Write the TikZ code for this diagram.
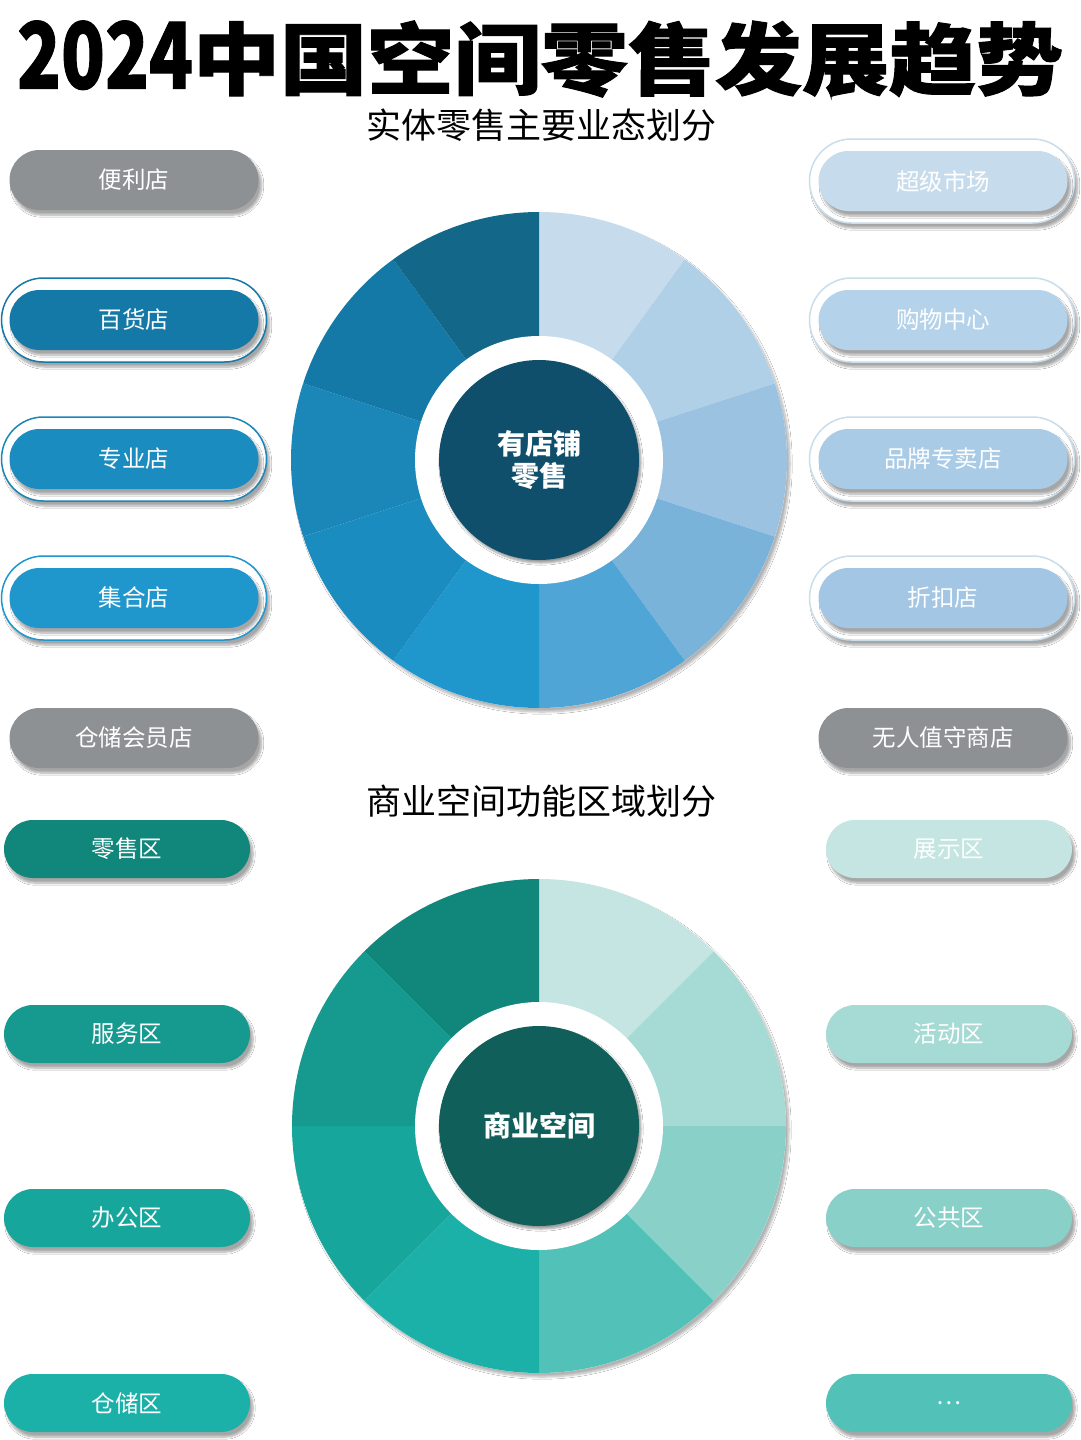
\documentclass[tikz,border=0pt]{standalone}
\usepackage{fontspec}
\setmainfont{Noto Sans CJK SC}
\newfontfamily\heavyfont{Noto Sans CJK SC}[BoldFeatures={FakeBold=1.2}]
\usetikzlibrary{shapes.misc,shadows,shadows.blur}
\definecolor{grayp}{HTML}{8E9194}
\definecolor{T1}{HTML}{C6DCEC}
\definecolor{T2}{HTML}{B0D0E8}
\definecolor{T3}{HTML}{9BC3E1}
\definecolor{T4}{HTML}{7AB3D9}
\definecolor{T5}{HTML}{4EA5D6}
\definecolor{T6}{HTML}{1F96CC}
\definecolor{T7}{HTML}{1A8CBF}
\definecolor{T8}{HTML}{1B86B8}
\definecolor{T9}{HTML}{1579A7}
\definecolor{T10}{HTML}{136889}
\definecolor{Tcore}{HTML}{104F6B}
\definecolor{B1}{HTML}{C4E5E1}
\definecolor{B2}{HTML}{A6DBD5}
\definecolor{B3}{HTML}{88D0C8}
\definecolor{B4}{HTML}{52C2B8}
\definecolor{B5}{HTML}{1BB1A8}
\definecolor{B6}{HTML}{17A69C}
\definecolor{B7}{HTML}{16998F}
\definecolor{B8}{HTML}{11877C}
\definecolor{Bcore}{HTML}{115F5A}
\definecolor{ringlight}{HTML}{CADDEB}
\definecolor{R2}{HTML}{B4D2EA}
\definecolor{R3}{HTML}{A9CBE6}
\definecolor{R4}{HTML}{A2C6E4}
\begin{document}
\begin{tikzpicture}[x=1pt,y=-1pt,
  shad/.style={blur shadow={shadow xshift=3pt, shadow yshift=-5pt, shadow opacity=35, shadow blur steps=8, shadow blur extra rounding=2pt}},
  pill/.style={rounded rectangle, minimum width=249pt, minimum height=60pt, inner sep=0pt, text=white, font=\fontsize{23.5}{26}\selectfont, shad},
  bpill/.style={pill, minimum width=246pt, minimum height=58pt},
  ringbox/.style={rounded rectangle, minimum width=265pt, minimum height=84pt, inner sep=0pt, fill=white, line width=1.5pt, shad},
  core/.style={circle, minimum size=200pt, inner sep=0pt, text=white, align=center, font=\bfseries\fontsize{28}{32}\selectfont, blur shadow={shadow xshift=2pt, shadow yshift=-3pt, shadow opacity=40, shadow blur steps=6}},
  disk/.style={circle, minimum size=496pt, inner sep=0pt, fill=white, blur shadow={shadow xshift=3pt, shadow yshift=-4pt, shadow opacity=30, shadow blur steps=8}},
  hole/.style={circle, minimum size=248pt, inner sep=0pt, fill=white},
  heading/.style={font=\fontsize{35}{38}\selectfont}
]
\useasboundingbox[fill=white] (0,0) rectangle (1080,1440);

% titles
\node[font=\heavyfont\bfseries\fontsize{84}{90}\selectfont, inner sep=0pt] (title) at (540,59) {\resizebox{176pt}{68pt}{2024}\resizebox{870pt}{68pt}{中国空间零售发展趋势}};
\node[heading] (sub1) at (541,125) {实体零售主要业态划分};
\node[heading] (sub2) at (541,801) {商业空间功能区域划分};

% top donut
\node[disk] (d1) at (539,460) {};
\foreach \i/\col in {0/T1,1/T2,2/T3,3/T4,4/T5,5/T6,6/T7,7/T8,8/T9,9/T10}
  \fill[\col] (d1.center) -- ++({-90+36*\i}:248) arc[start angle={-90+36*\i}, end angle={-90+36*(\i+1)}, radius=248] -- cycle;
\node[hole] (h1) at (d1.center) {};
\node[core, fill=Tcore] (core1) at (d1.center) {有店铺\\零售};

% bottom donut
\node[disk, minimum size=494pt] (d2) at (539,1126) {};
\foreach \i/\col in {0/B1,1/B2,2/B3,3/B4,4/B5,5/B6,6/B7,7/B8}
  \fill[\col] (d2.center) -- ++({-90+45*\i}:247) arc[start angle={-90+45*\i}, end angle={-90+45*(\i+1)}, radius=247] -- cycle;
\node[hole] (h2) at (d2.center) {};
\node[core, fill=Bcore] (core2) at (d2.center) {商业空间};

% top-left pills
\node[pill, fill=grayp] (p1) at (134,180) {便利店};
\node[ringbox, draw=T9] (r2) at (134,320) {};
\node[pill, fill=T9] (p2) at (134,320) {百货店};
\node[ringbox, draw=T8] (r3) at (134,459) {};
\node[pill, fill=T7] (p3) at (134,459) {专业店};
\node[ringbox, draw=T6] (r4) at (134,598) {};
\node[pill, fill=T6] (p4) at (134,598) {集合店};
\node[pill, fill=grayp] (p5) at (134,738) {仓储会员店};

% top-right pills
\node[ringbox, draw=ringlight] (r6) at (942,181) {};
\node[pill, fill=T1] (p6) at (943,181) {超级市场};
\node[ringbox, draw=ringlight] (r7) at (942,320) {};
\node[pill, fill=R2] (p7) at (943,320) {购物中心};
\node[ringbox, draw=ringlight] (r8) at (942,459) {};
\node[pill, fill=R3] (p8) at (943,459) {品牌专卖店};
\node[ringbox, draw=ringlight] (r9) at (942,598) {};
\node[pill, fill=R4] (p9) at (943,598) {折扣店};
\node[pill, fill=grayp] (p10) at (943,738) {无人值守商店};

% bottom-left pills
\node[bpill, fill=B8] (q1) at (127,849) {零售区};
\node[bpill, fill=B7] (q2) at (127,1034) {服务区};
\node[bpill, fill=B6] (q3) at (127,1218) {办公区};
\node[bpill, fill=B5] (q4) at (127,1403) {仓储区};

% bottom-right pills
\node[bpill, fill=B1] (q5) at (949,849) {展示区};
\node[bpill, fill=B2] (q6) at (949,1034) {活动区};
\node[bpill, fill=B3] (q7) at (949,1218) {公共区};
\node[bpill, fill=B4] (q8) at (949,1403) {…};
\end{tikzpicture}
\end{document}
